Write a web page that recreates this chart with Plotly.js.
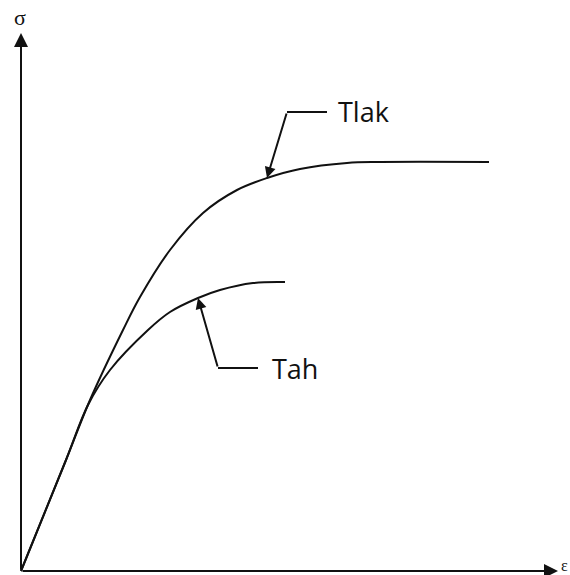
<!DOCTYPE html>
<html>
<head>
<meta charset="utf-8">
<script src="https://cdn.plot.ly/plotly-3.0.1.min.js"></script>
<style>html,body{margin:0;padding:0;background:#fff;}#chart{width:570px;height:575px;}</style>
</head>
<body>
<div id="chart"></div>
<script>
// Compression curve (Tlak)
const tlakStrain = [0, 45, 69, 102, 119, 149, 182, 216, 246, 279, 326, 359, 468];
const tlakStress = [0, 111, 171, 241, 274, 321, 358, 381, 393, 402, 408, 409, 409];
// Tension curve (Tah)
const tahStrain = [0, 45, 67, 89, 127, 149, 177, 199, 232, 264];
const tahStress = [0, 111, 166, 201, 241, 259, 273, 281, 288, 289];
// Labels
const curveLabels = ["Tlak", "Tah"];
const yLabel = "σ";
const xLabel = "ε";

const lineStyle = {color: '#111', width: 2, shape: 'spline', smoothing: 1};
const traces = [
  {x: tlakStrain, y: tlakStress, mode: 'lines', line: lineStyle, hoverinfo: 'skip'},
  {x: tahStrain, y: tahStress, mode: 'lines', line: lineStyle, hoverinfo: 'skip'}
];

const tlakTip = 8, tahTip = 6;
const ann = [];
// axes arrows
ann.push({x: 0, y: 538, ax: 0, ay: 0, axref: 'x', ayref: 'y', xref: 'x', yref: 'y', text: '',
  showarrow: true, arrowhead: 2, arrowwidth: 2, arrowsize: 1.4, arrowcolor: '#111'});
ann.push({x: 537, y: 0, ax: 0, ay: 0, axref: 'x', ayref: 'y', xref: 'x', yref: 'y', text: '',
  showarrow: true, arrowhead: 2, arrowwidth: 2, arrowsize: 1.4, arrowcolor: '#111'});
// leader arrows
ann.push({x: tlakStrain[tlakTip], y: tlakStress[tlakTip], ax: 266, ay: 459, axref: 'x', ayref: 'y', xref: 'x', yref: 'y',
  text: '', showarrow: true, arrowhead: 2, arrowwidth: 2, arrowsize: 1.1, arrowcolor: '#111'});
ann.push({x: tahStrain[tahTip], y: tahStress[tahTip], ax: 197, ay: 203, axref: 'x', ayref: 'y', xref: 'x', yref: 'y',
  text: '', showarrow: true, arrowhead: 2, arrowwidth: 2, arrowsize: 1.1, arrowcolor: '#111'});
// labels
ann.push({x: 315, y: 460, xref: 'x', yref: 'y', text: curveLabels[0], showarrow: false, xanchor: 'left', yanchor: 'middle',
  font: {family: 'Open Sans', size: 27, color: '#111'}});
ann.push({x: 249, y: 203, xref: 'x', yref: 'y', text: curveLabels[1], showarrow: false, xanchor: 'left', yanchor: 'middle',
  font: {family: 'Open Sans', size: 27, color: '#111'}});
ann.push({x: -1, y: 554, xref: 'x', yref: 'y', text: yLabel, showarrow: false, xanchor: 'center', yanchor: 'middle',
  font: {family: 'Liberation Serif', size: 22, color: '#111'}});
ann.push({x: 549, y: 6, xref: 'x', yref: 'y', text: xLabel, showarrow: false, xanchor: 'right', yanchor: 'middle',
  font: {family: 'Liberation Serif', size: 16, color: '#111'}});

const shapes = [
  {type: 'line', xref: 'x', yref: 'y', x0: 266, y0: 459, x1: 306, y1: 459, line: {color: '#111', width: 2}},
  {type: 'line', xref: 'x', yref: 'y', x0: 197, y0: 203, x1: 237, y1: 203, line: {color: '#111', width: 2}}
];

const layout = {
  width: 570, height: 575,
  margin: {l: 0, r: 0, t: 0, b: 0},
  paper_bgcolor: '#fff', plot_bgcolor: '#fff',
  showlegend: false,
  xaxis: {range: [-21, 549], visible: false, fixedrange: true},
  yaxis: {range: [-4, 571], visible: false, fixedrange: true},
  annotations: ann,
  shapes: shapes
};
Plotly.newPlot('chart', traces, layout, {staticPlot: true});
</script>
</body>
</html>
